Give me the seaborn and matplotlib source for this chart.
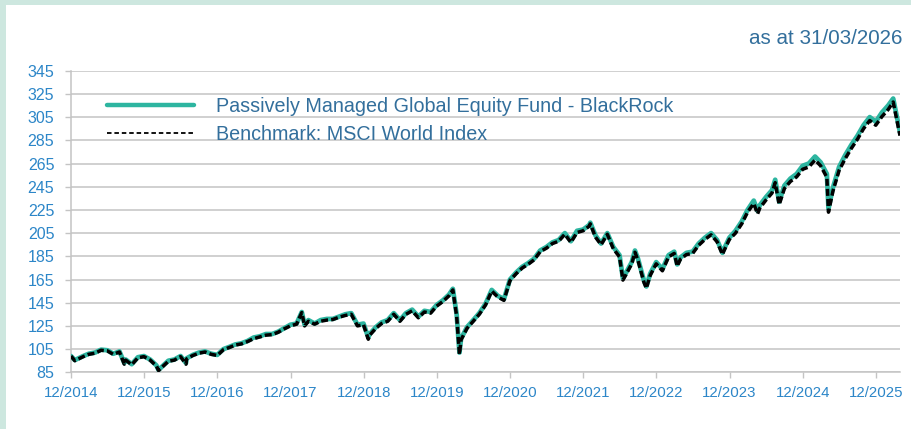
import matplotlib
matplotlib.use("Agg")
import matplotlib.pyplot as plt
import seaborn as sns
import pandas as pd
from matplotlib.lines import Line2D
from matplotlib.patches import Rectangle

# ---------------- data ----------------
dates = [
    "2014-12-01", "2014-12-20", "2015-01-31", "2015-02-28", "2015-03-31", "2015-04-30", "2015-05-31", "2015-06-30", "2015-07-31", "2015-08-24",
    "2015-08-31", "2015-09-30", "2015-10-31", "2015-11-30", "2015-12-31", "2016-01-31", "2016-02-11", "2016-02-29", "2016-03-31", "2016-04-30",
    "2016-05-31", "2016-06-27", "2016-06-30", "2016-07-31", "2016-08-31", "2016-09-30", "2016-10-31", "2016-11-30", "2016-12-31", "2017-01-31",
    "2017-02-28", "2017-03-31", "2017-04-30", "2017-05-31", "2017-06-30", "2017-07-31", "2017-08-31", "2017-09-30", "2017-10-31", "2017-11-30",
    "2017-12-31", "2018-01-26", "2018-02-09", "2018-02-28", "2018-03-31", "2018-04-30", "2018-05-31", "2018-06-30", "2018-07-31", "2018-08-31",
    "2018-09-30", "2018-10-31", "2018-11-30", "2018-12-24", "2018-12-31", "2019-01-31", "2019-02-28", "2019-03-31", "2019-04-30", "2019-05-31",
    "2019-06-30", "2019-07-31", "2019-08-31", "2019-09-30", "2019-10-31", "2019-11-30", "2019-12-31", "2020-01-31", "2020-02-19", "2020-03-09",
    "2020-03-23", "2020-03-31", "2020-04-30", "2020-05-31", "2020-06-30", "2020-07-31", "2020-08-31", "2020-09-30", "2020-10-31", "2020-11-30",
    "2020-12-31", "2021-01-31", "2021-02-28", "2021-03-31", "2021-04-30", "2021-05-31", "2021-06-30", "2021-07-31", "2021-08-31", "2021-09-30",
    "2021-10-31", "2021-11-30", "2021-12-31", "2022-01-05", "2022-01-31", "2022-02-28", "2022-03-31", "2022-04-30", "2022-05-31", "2022-06-17",
    "2022-06-30", "2022-07-31", "2022-08-16", "2022-08-31", "2022-09-30", "2022-10-12", "2022-10-31", "2022-11-30", "2022-12-31", "2023-01-31",
    "2023-02-28", "2023-03-15", "2023-03-31", "2023-04-30", "2023-05-31", "2023-06-30", "2023-07-31", "2023-08-31", "2023-09-30", "2023-10-27",
    "2023-10-31", "2023-11-30", "2023-12-31", "2024-01-31", "2024-02-29", "2024-03-31", "2024-04-19", "2024-04-30", "2024-05-31", "2024-06-30",
    "2024-07-16", "2024-08-05", "2024-08-31", "2024-09-30", "2024-10-31", "2024-11-30", "2024-12-31", "2025-01-31", "2025-02-28", "2025-03-31",
    "2025-04-08", "2025-04-30", "2025-05-31", "2025-06-30", "2025-07-31", "2025-08-31", "2025-09-30", "2025-10-31", "2025-11-30", "2025-12-31",
    "2026-01-31", "2026-02-25", "2026-03-31",
]

fund = [
    99, 95.5, 99, 101, 102, 104.5, 104, 101, 103, 93,
    96, 92, 98, 99, 96, 91, 87, 90, 95, 96,
    99, 93, 97, 100, 102, 103, 101, 100, 105, 107,
    109, 110, 112, 115, 116, 118, 118, 120, 123, 126,
    127, 137, 126, 130, 127, 130, 131, 131, 133, 135,
    136, 126, 127, 115, 118, 124, 128, 130, 136, 130,
    136, 139, 133, 138, 137, 143, 147, 152, 157, 135,
    102, 114, 124, 130, 136, 144, 156, 151, 148, 165,
    171, 176, 179, 183, 190, 193, 197, 199, 205, 198,
    207, 208, 212, 214, 203, 196, 205, 193, 186, 166,
    170, 180, 190, 183, 164, 159, 170, 180, 174, 186,
    189, 178, 184, 188, 189, 196, 201, 205, 199, 188,
    190, 201, 207, 215, 225, 233, 224, 229, 236, 242,
    251, 232, 246, 252, 256, 263, 265, 271, 266, 256,
    226, 244, 262, 272, 281, 289, 298, 305, 301, 309,
    315, 321, 292,
]

bench = [
    99, 95, 98.5, 100.5, 101.5, 104, 103.5, 100.5, 102.5, 92,
    95.5, 91.5, 97.5, 98.5, 95.5, 90.5, 86.5, 89.5, 94.5, 95.5,
    98.5, 92, 96.5, 99.5, 101.5, 102.5, 100.5, 99.5, 104.5, 106.5,
    108.5, 109.5, 111.5, 114, 115.5, 117, 117.5, 119.5, 122.5, 125,
    126.5, 136.5, 125, 129, 126.5, 129, 130, 130.5, 132.5, 134,
    135, 125, 126, 113.5, 117, 123, 127, 129, 135, 129,
    135, 138, 132, 137, 136, 142, 146, 151, 156, 133.5,
    100.5, 113, 123, 129, 135, 143, 155, 150, 147, 164,
    170, 175, 178, 182, 189, 192, 196, 198, 204, 197,
    205.5, 207, 211, 213, 201.5, 195, 204, 191.5, 184.5, 164.5,
    168.5, 178.5, 188.5, 181.5, 162.5, 157.5, 168.5, 178.5, 172.5, 184.5,
    187.5, 176.5, 182.5, 186.5, 187.5, 194.5, 199.5, 203.5, 197.5, 186.5,
    188.5, 199.5, 205, 213, 223, 230.5, 221.5, 226.5, 233.5, 239.5,
    248.5, 229.5, 243.5, 249.5, 253.5, 260, 262, 268, 263, 253,
    223, 241, 259, 269, 278, 286, 295, 302, 298, 305.5,
    311.5, 318, 289,
]

series_names = ["Passively Managed Global Equity Fund - BlackRock",
                "Benchmark: MSCI World Index"]
y_ticks = [85, 105, 125, 145, 165, 185, 205, 225, 245, 265, 285, 305, 325, 345]
x_tick_dates = ["2014-12-01", "2015-12-01", "2016-12-01", "2017-12-01", "2018-12-01", "2019-12-01",
                "2020-12-01", "2021-12-01", "2022-12-01", "2023-12-01", "2024-12-01", "2025-12-01"]
x_tick_labels = ["12/2014", "12/2015", "12/2016", "12/2017", "12/2018", "12/2019",
                 "12/2020", "12/2021", "12/2022", "12/2023", "12/2024", "12/2025"]
subtitle = "as at 31/03/2026"

# ---------------- style ----------------
MINT = "#cde7df"
TEAL = "#2db5a0"
TICKBLUE = "#2c86c8"
TEXTBLUE = "#336f9c"
GRID = "#c4c4c4"

sns.set_theme(style="white")
plt.rcParams["font.family"] = ["Liberation Sans", "DejaVu Sans"]

W, H = 912, 429
fig = plt.figure(figsize=(W / 100, H / 100), dpi=100, facecolor=MINT)
bg = Rectangle((6 / W, 0), 1, 1 - 5 / H, transform=fig.transFigure,
               facecolor="white", edgecolor="none", zorder=-10)
fig.patches.append(bg)

ax_l, ax_r, ax_t, ax_b = 71, 900, 70.7, 372.3
ax = fig.add_axes([ax_l / W, 1 - ax_b / H, (ax_r - ax_l) / W, (ax_b - ax_t) / H])
ax.set_zorder(5)
ax.set_facecolor("none")

n = min(len(dates), len(fund), len(bench))
df = pd.DataFrame({"date": pd.to_datetime(dates[:n]), "fund": fund[:n], "bench": bench[:n]})

sns.lineplot(data=df, x="date", y="fund", ax=ax, color=TEAL, linewidth=3.4, zorder=3)
sns.lineplot(data=df, x="date", y="bench", ax=ax, color="black", linewidth=2.5,
             linestyle=(0, (2.0, 0.9)), zorder=4)

ax.set_xlabel("")
ax.set_ylabel("")
ax.set_ylim(85, 345)
ax.set_xlim(pd.Timestamp("2014-12-01"), pd.Timestamp("2026-03-31"))
ax.set_yticks(y_ticks)
ax.set_yticklabels([str(v) for v in y_ticks])
ax.set_xticks(pd.to_datetime(x_tick_dates))
ax.set_xticklabels(x_tick_labels)

ax.yaxis.grid(True, color=GRID, linewidth=1.1)
ax.xaxis.grid(False)
ax.set_axisbelow(True)
for s in ["top", "right"]:
    ax.spines[s].set_visible(False)
for s in ["left", "bottom"]:
    ax.spines[s].set_color(GRID)
    ax.spines[s].set_linewidth(1.1)

ax.tick_params(axis="y", left=True, length=4, width=1, color=GRID, labelcolor=TICKBLUE,
               labelsize=11.5, pad=8)
ax.tick_params(axis="x", bottom=True, length=4, width=1, color=GRID, labelcolor=TICKBLUE,
               labelsize=10.8, pad=6)

handles = [Line2D([0], [0], color=TEAL, linewidth=3.2),
           Line2D([0], [0], color="black", linewidth=1.3, linestyle=(0, (2.5, 1.6)))]
leg = ax.legend(handles=handles, labels=series_names, loc="upper left",
                bbox_to_anchor=(0.0434, 0.912), frameon=False, fontsize=14.2,
                handlelength=4.4, handletextpad=1.15, labelspacing=0.45,
                borderpad=0, borderaxespad=0)
for t in leg.get_texts():
    t.set_color(TEXTBLUE)

fig.text(902 / W, 1 - 38.5 / H, subtitle, ha="right", va="center",
         fontsize=14.9, color=TEXTBLUE)

fig.savefig("out.png", dpi=100, facecolor=fig.get_facecolor())
